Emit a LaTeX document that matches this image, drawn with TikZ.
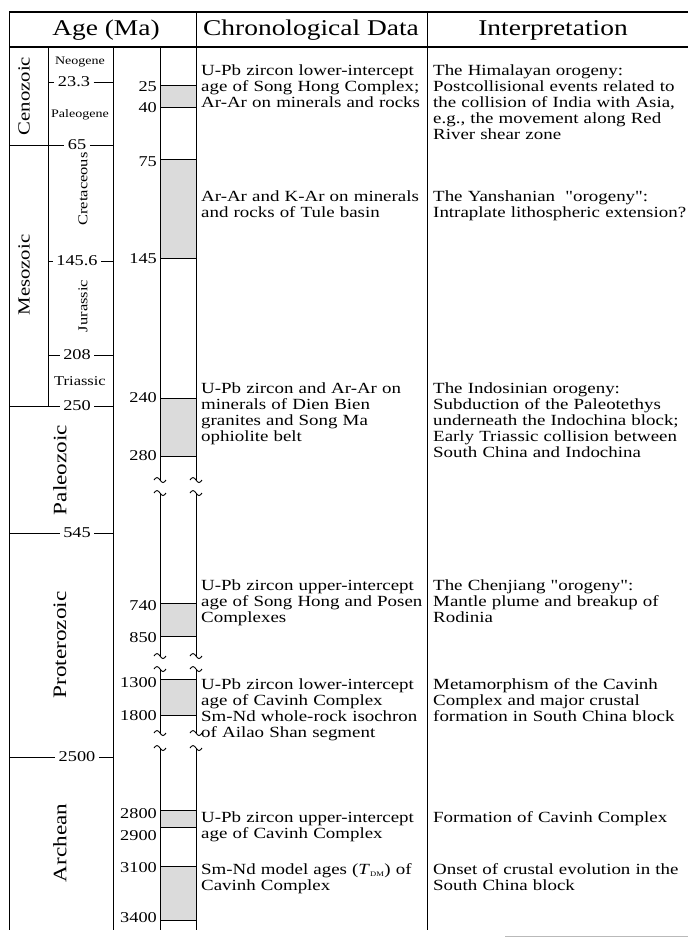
\documentclass[tikz,border=0pt]{standalone}
\usepackage{fontspec}
\setmainfont{Liberation Serif}[FakeStretch=1.22, Ligatures=TeXOff]
\tikzset{
  rule/.style={line width=0.9pt},
  hrule/.style={line width=1.3pt},
  bar/.style={draw, line width=0.8pt, fill=black!14},
  hdr/.style={font=\fontsize{22.5}{24}\selectfont, inner sep=0pt},
  era/.style={font=\fontsize{17}{17}\selectfont, rotate=90, inner sep=0pt},
  bigera/.style={font=\fontsize{19}{19}\selectfont, rotate=90, inner sep=0pt},
  per/.style={font=\fontsize{13.5}{14}\selectfont, inner sep=0pt},
  smallper/.style={font=\fontsize{11.5}{12}\selectfont, inner sep=0pt},
  bnd/.style={font=\fontsize{15}{15}\selectfont, inner xsep=3.5pt, inner ysep=0pt},
  num/.style={font=\fontsize{15}{15}\selectfont, anchor=east, inner sep=0pt},
  txt/.style={font=\fontsize{15.5}{16}\selectfont, align=left, anchor=base west,
    inner sep=0pt, text width=260pt},
}
\begin{document}
\begin{tikzpicture}[x=1pt, y=-1pt]
  \useasboundingbox (0,0) rectangle (688,939);
  \coordinate (colA) at (9,0);
  \coordinate (colB) at (48,0);
  \coordinate (colC) at (113,0);
  % frame
  \draw[hrule] (9,12) -- (688,12);
  \draw[hrule] (9,47) -- (688,47);
  \draw[rule] (9,12) -- (9,930);
  \draw[rule] (196,12) -- (196,47);
  \draw[rule] (427,12) -- (427,930);
  \draw[rule] (48,47) -- (48,406);
  \draw[rule] (113,47) -- (113,930);
  \draw[gray!55, line width=0.6pt] (505,936) -- (688,936);
  % headers
  \node[hdr] (hAge) at (106,30) {Age (Ma)};
  \node[hdr] (hData) at (311,30) {Chronological Data};
  \node[hdr] (hInt) at (553,30) {Interpretation};
  % eras and periods
  \node[era] (eCen) at (24,96) {Cenozoic};
  \node[era] (eMes) at (24,275) {Mesozoic};
  \node[bigera] (ePal) at (60,470) {Paleozoic};
  \node[bigera] (ePro) at (60,645) {Proterozoic};
  \node[bigera] (eArc) at (60,843) {Archean};
  \node[smallper] (pNeo) at (80,62) {Neogene};
  \node[smallper] (pPal) at (80,115) {Paleogene};
  \node[per, rotate=90] (pCre) at (83,189) {Cretaceous};
  \node[per, rotate=90] (pJur) at (83,306) {Jurassic};
  \node[per] (pTri) at (80,381) {Triassic};
  % boundaries
  \node[bnd] (b233) at (74,82) {23.3};
  \node[bnd] (b65) at (77,145) {65};
  \node[bnd] (b1456) at (77,261) {145.6};
  \node[bnd] (b208) at (77,355) {208};
  \node[bnd] (b250) at (77,406) {250};
  \node[bnd] (b545) at (77,533) {545};
  \node[bnd] (b2500) at (77,757) {2500};
  \draw[rule] (colB |- b233) -- (b233.west);
  \draw[rule] (b233.east) -- (colC |- b233);
  \draw[rule] (colA |- b65) -- (b65.west);
  \draw[rule] (b65.east) -- (colC |- b65);
  \draw[rule] (colB |- b1456) -- (b1456.west);
  \draw[rule] (b1456.east) -- (colC |- b1456);
  \draw[rule] (colB |- b208) -- (b208.west);
  \draw[rule] (b208.east) -- (colC |- b208);
  \draw[rule] (colA |- b250) -- (b250.west);
  \draw[rule] (b250.east) -- (colC |- b250);
  \draw[rule] (colA |- b545) -- (b545.west);
  \draw[rule] (b545.east) -- (colC |- b545);
  \draw[rule] (colA |- b2500) -- (b2500.west);
  \draw[rule] (b2500.east) -- (colC |- b2500);
  % age bars
  \draw[bar] (160,85) rectangle (196,107);
  \draw[bar] (160,159) rectangle (196,258);
  \draw[bar] (160,398) rectangle (196,456);
  \draw[bar] (160,603) rectangle (196,636);
  \draw[bar] (160,679) rectangle (196,715);
  \draw[bar] (160,810) rectangle (196,827);
  \draw[bar] (160,866) rectangle (196,920);
  \foreach \x in {160,196}{
    \draw[rule] (\x,47) -- (\x,480);
    \draw[rule] (\x,493) -- (\x,656);
    \draw[rule] (\x,669) -- (\x,733);
    \draw[rule] (\x,748) -- (\x,930);
    \foreach \y in {480,493,656,669,733,748}
      \draw[rule] (\x-6,\y) sin (\x-3,\y-2.5) cos (\x,\y) sin (\x+3,\y+2.5) cos (\x+6,\y);
  }
  \node[num] (n25) at (157,87) {25};
  \node[num] (n40) at (157,108) {40};
  \node[num] (n75) at (157,162) {75};
  \node[num] (n145) at (157,259) {145};
  \node[num] (n240) at (157,398) {240};
  \node[num] (n280) at (157,456) {280};
  \node[num] (n740) at (157,606) {740};
  \node[num] (n850) at (157,638) {850};
  \node[num] (n1300) at (157,683) {1300};
  \node[num] (n1800) at (157,716) {1800};
  \node[num] (n2800) at (157,814) {2800};
  \node[num] (n2900) at (157,836) {2900};
  \node[num] (n3100) at (157,868) {3100};
  \node[num] (n3400) at (157,918) {3400};
  % chronological data
  \node[txt] (c1) at (201,76) {U-Pb zircon lower-intercept\\age of Song Hong Complex;\\Ar-Ar on minerals and rocks};
  \node[txt] (c2) at (201,201) {Ar-Ar and K-Ar on minerals\\and rocks of Tule basin};
  \node[txt] (c3) at (201,393) {U-Pb zircon and Ar-Ar on\\minerals of Dien Bien\\granites and Song Ma\\ophiolite belt};
  \node[txt] (c4) at (201,590) {U-Pb zircon upper-intercept\\age of Song Hong and Posen\\Complexes};
  \node[txt] (c5) at (201,689) {U-Pb zircon lower-intercept\\age of Cavinh Complex\\Sm-Nd whole-rock isochron\\of Ailao Shan segment};
  \node[txt] (c6) at (201,822) {U-Pb zircon upper-intercept\\age of Cavinh Complex};
  \node[txt] (c7) at (201,874) {Sm-Nd model ages (\textit{T}\textsubscript{\fontsize{7}{7}\selectfont DM}) of\\Cavinh Complex};
  % interpretation
  \node[txt] (i1) at (433,76) {The Himalayan orogeny:\\Postcollisional events related to\\the collision of India with Asia,\\e.g., the movement along Red\\River shear zone};
  \node[txt] (i2) at (433,201) {The Yanshanian \ "orogeny":\\Intraplate lithospheric extension?};
  \node[txt] (i3) at (433,393) {The Indosinian orogeny:\\Subduction of the Paleotethys\\underneath the Indochina block;\\Early Triassic collision between\\South China and Indochina};
  \node[txt] (i4) at (433,590) {The Chenjiang "orogeny":\\Mantle plume and breakup of\\Rodinia};
  \node[txt] (i5) at (433,689) {Metamorphism of the Cavinh\\Complex and major crustal\\formation in South China block};
  \node[txt] (i6) at (433,822) {Formation of Cavinh Complex};
  \node[txt] (i7) at (433,874) {Onset of crustal evolution in the\\South China block};
\end{tikzpicture}
\end{document}
